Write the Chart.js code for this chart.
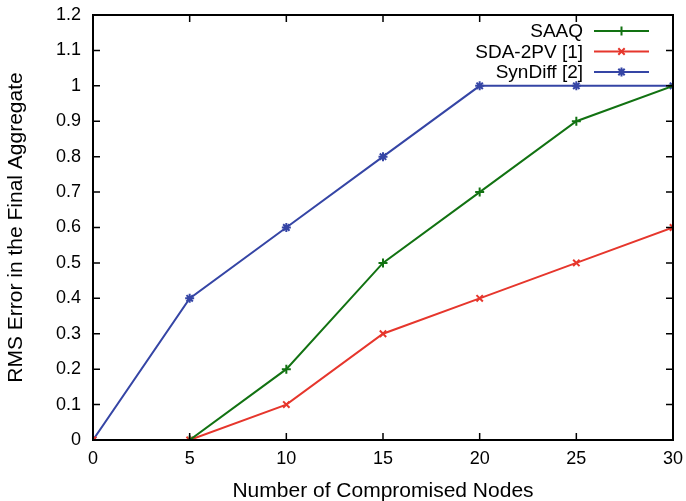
<!DOCTYPE html>
<html>
<head>
<meta charset="utf-8">
<script src="https://cdn.jsdelivr.net/npm/chart.js@4/dist/chart.umd.min.js"></script>
<style>
  html, body { margin: 0; padding: 0; background: #fff; }
  #wrap { width: 686px; height: 501px; position: relative; }
</style>
</head>
<body>
<div id="wrap"><canvas id="c" width="686" height="501"></canvas></div>
<script>
// Number of compromised nodes (x axis)
const nodes = [0, 5, 10, 15, 20, 25, 30];

// RMS error in the final aggregate for each scheme
const saaq    = [0, 0, 0.2, 0.5, 0.7, 0.9, 1.0];
const sda2pv  = [0, 0, 0.1, 0.3, 0.4, 0.5, 0.6];
const syndiff = [0, 0.4, 0.6, 0.8, 1.0, 1.0, 1.0];

const seriesNames = ['SAAQ', 'SDA-2PV [1]', 'SynDiff [2]'];
const xTicks = [0, 5, 10, 15, 20, 25, 30];
const yTicks = [0, 0.1, 0.2, 0.3, 0.4, 0.5, 0.6, 0.7, 0.8, 0.9, 1, 1.1, 1.2];

const FONT = '"Liberation Sans", Arial, sans-serif';
const colors = ['#127212', '#e6362c', '#3545a5'];
const markers = ['cross', 'crossRot', 'star'];

function pts(vals) { return nodes.map((x, i) => ({ x: x, y: vals[i] })); }

const datasets = [saaq, sda2pv, syndiff].map((vals, i) => ({
  label: seriesNames[i],
  data: pts(vals),
  borderColor: colors[i],
  backgroundColor: colors[i],
  borderWidth: 2,
  pointStyle: markers[i],
  pointRadius: 4.5,
  pointBorderWidth: 2,
  pointBorderColor: colors[i],
  tension: 0
}));

// Frame, inward ticks on all four sides, and the key in the top-right corner
const framePlugin = {
  id: 'frame',
  afterDatasetsDraw(chart) {
    const { ctx, chartArea: a, scales } = chart;
    ctx.save();
    ctx.strokeStyle = '#000';
    ctx.lineWidth = 2;
    ctx.strokeRect(a.left, a.top, a.right - a.left, a.bottom - a.top);
    const tl = 7;
    ctx.lineWidth = 1.5;
    ctx.beginPath();
    xTicks.forEach(v => {
      const px = scales.x.getPixelForValue(v);
      ctx.moveTo(px, a.bottom); ctx.lineTo(px, a.bottom - tl);
      ctx.moveTo(px, a.top); ctx.lineTo(px, a.top + tl);
    });
    yTicks.forEach(v => {
      const py = scales.y.getPixelForValue(v);
      ctx.moveTo(a.left, py); ctx.lineTo(a.left + tl, py);
      ctx.moveTo(a.right, py); ctx.lineTo(a.right - tl, py);
    });
    ctx.stroke();

    // key
    ctx.font = '19px ' + FONT;
    ctx.textAlign = 'right';
    ctx.textBaseline = 'middle';
    const textRight = a.right - 90;
    const lineX0 = a.right - 79, lineX1 = a.right - 24;
    chart.data.datasets.forEach((ds, i) => {
      const y = a.top + 16 + i * 20.5;
      ctx.fillStyle = '#000';
      ctx.fillText(ds.label, textRight, y + 1);
      ctx.strokeStyle = ds.borderColor;
      ctx.lineWidth = 2;
      ctx.beginPath();
      ctx.moveTo(lineX0, y); ctx.lineTo(lineX1, y);
      ctx.stroke();
      Chart.helpers.drawPoint(ctx, {
        pointStyle: ds.pointStyle, radius: 4.5, rotation: 0, borderWidth: 2
      }, (lineX0 + lineX1) / 2, y);
    });
    ctx.restore();
  }
};

new Chart(document.getElementById('c'), {
  type: 'line',
  data: { datasets: datasets },
  options: {
    responsive: false,
    animation: false,
    layout: { padding: { top: 15, right: 13, left: 0, bottom: 0 } },
    plugins: { legend: { display: false }, tooltip: { enabled: false } },
    scales: {
      x: {
        type: 'linear',
        min: 0, max: 30,
        afterBuildTicks(s) { s.ticks = xTicks.map(v => ({ value: v })); },
        afterFit(s) { s.height = 61; s.paddingLeft = 0; s.paddingRight = 0; },
        grid: { display: false, drawTicks: false },
        border: { display: false },
        ticks: {
          color: '#000', padding: 8, maxRotation: 0,
          font: { family: FONT, size: 18 },
          callback: v => String(v)
        },
        title: {
          display: true, text: 'Number of Compromised Nodes', color: '#000',
          font: { family: FONT, size: 21, lineHeight: 0.9 }, padding: 0
        }
      },
      y: {
        type: 'linear',
        min: 0, max: 1.2,
        afterBuildTicks(s) { s.ticks = yTicks.map(v => ({ value: v })); },
        afterFit(s) { s.width = 93; s.paddingTop = 0; s.paddingBottom = 0; },
        grid: { display: false, drawTicks: false },
        border: { display: false },
        ticks: {
          color: '#000', padding: 12,
          font: { family: FONT, size: 18 },
          callback: v => String(Math.round(v * 10) / 10)
        },
        title: {
          display: true, text: 'RMS Error in the Final Aggregate', color: '#000',
          font: { family: FONT, size: 21, lineHeight: 1.52 }, padding: 0
        }
      }
    }
  },
  plugins: [framePlugin]
});
</script>
</body>
</html>
